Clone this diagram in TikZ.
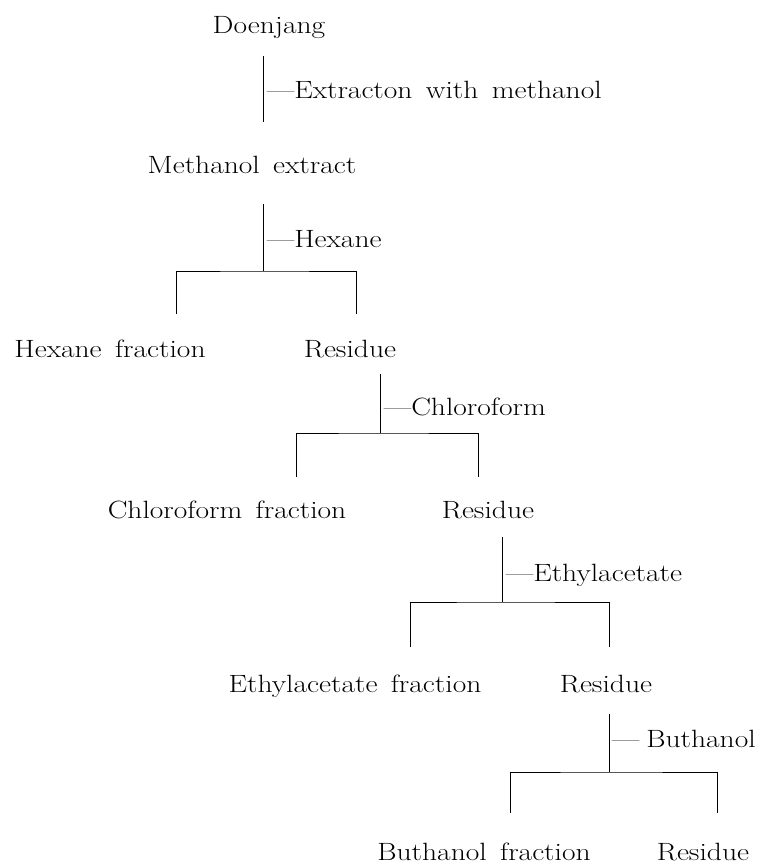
\documentclass[tikz,border=0pt]{standalone}
\usepackage{fontspec}
\setmainfont{Latin Modern Roman}[FakeStretch=1.18,WordSpace=1.5]
\begin{document}
\begin{tikzpicture}[x=1pt,y=-1pt,
  every node/.style={inner sep=0pt,font=\fontsize{25}{30}\selectfont},
  lbl/.style={anchor=base},
  steplbl/.style={anchor=base west},
  conn/.style={line width=0.7pt,black}]
\useasboundingbox (0,0) rectangle (766,866);

% products
\node[lbl] (doen) at (269,34) {Doenjang};
\node[lbl] (meth) at (252,174) {Methanol extract};
\node[lbl] (hexf) at (110,357) {Hexane fraction};
\node[lbl] (res1) at (350,357) {Residue};
\node[lbl] (chlf) at (227,518) {Chloroform fraction};
\node[lbl] (res2) at (488,518) {Residue};
\node[lbl] (ethf) at (355,692) {Ethylacetate fraction};
\node[lbl] (res3) at (606,692) {Residue};
\node[lbl] (butf) at (484,860) {Buthanol fraction};
\node[lbl] (res4) at (703,860) {Residue};

% step labels
\node[steplbl] (s1) at (267,99) {---Extracton with methanol};
\node[steplbl] (s2) at (267,248) {---Hexane};
\node[steplbl] (s3) at (384,415) {---Chloroform};
\node[steplbl] (s4) at (506,581) {---Ethylacetate};
\node[steplbl] (s5) at (612,747) {---\hspace{7pt}Buthanol};

% connector points
\coordinate (t1) at (263,56);  \coordinate (b1) at (263,122);
\coordinate (t2) at (263,204); \coordinate (j2) at (263,271);
\coordinate (l2) at (176,314); \coordinate (r2) at (356,314);
\coordinate (t3) at (380,374); \coordinate (j3) at (380,433);
\coordinate (l3) at (296,477); \coordinate (r3) at (478,477);
\coordinate (t4) at (502,537); \coordinate (j4) at (502,602);
\coordinate (l4) at (410,647); \coordinate (r4) at (609,647);
\coordinate (t5) at (609,714); \coordinate (j5) at (609,772);
\coordinate (l5) at (510,813); \coordinate (r5) at (717,813);

\draw[conn] (t1) -- (b1);
\draw[conn] (t2) -- (j2);
\draw[conn] (l2) |- (j2) -| (r2);
\draw[conn] (t3) -- (j3);
\draw[conn] (l3) |- (j3) -| (r3);
\draw[conn] (t4) -- (j4);
\draw[conn] (l4) |- (j4) -| (r4);
\draw[conn] (t5) -- (j5);
\draw[conn] (l5) |- (j5) -| (r5);
\end{tikzpicture}
\end{document}
